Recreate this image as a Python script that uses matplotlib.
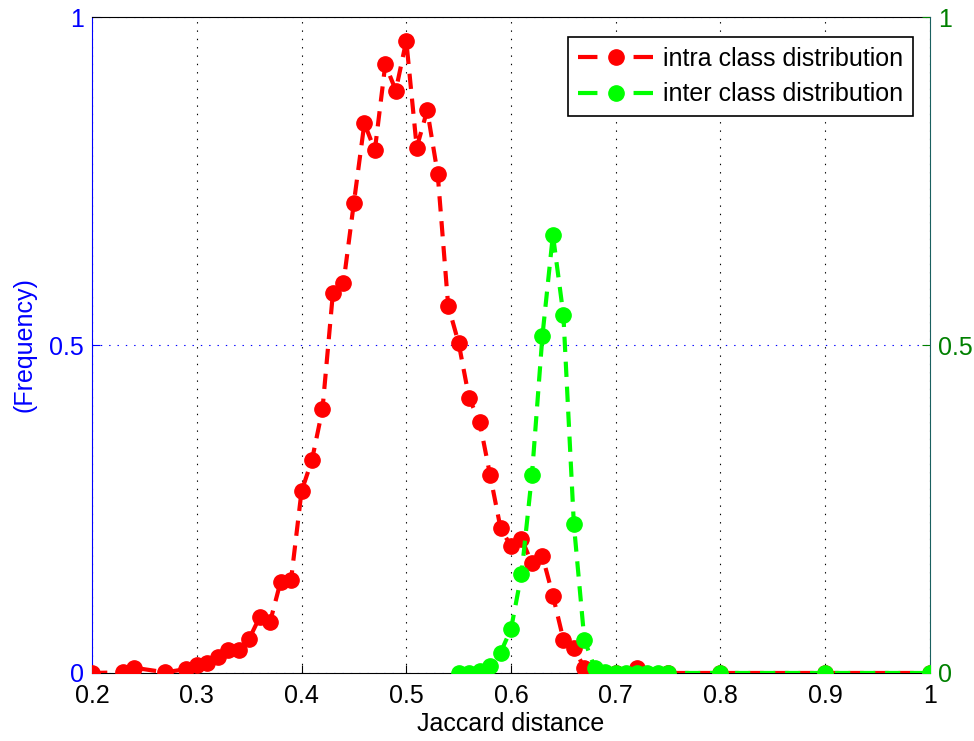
import matplotlib
matplotlib.use("Agg")
import matplotlib.pyplot as plt

plt.rcParams['font.family'] = ['Liberation Sans', 'DejaVu Sans']
plt.rcParams['lines.scale_dashes'] = False

# intra class distribution (red)
intra_x = [0.20, 0.23, 0.24, 0.27, 0.29, 0.30, 0.31, 0.32, 0.33, 0.34, 0.35, 0.36,
           0.37, 0.38, 0.39, 0.40, 0.41, 0.42, 0.43, 0.44, 0.45, 0.46, 0.47, 0.48,
           0.49, 0.50, 0.51, 0.52, 0.53, 0.54, 0.55, 0.56, 0.57, 0.58, 0.59, 0.60,
           0.61, 0.62, 0.63, 0.64, 0.65, 0.66, 0.67, 0.68, 0.70, 0.72, 0.75, 0.80,
           0.90, 1.00]
intra_y = [0.000, 0.001, 0.008, 0.001, 0.006, 0.012, 0.015, 0.025, 0.035, 0.035, 0.052, 0.085,
           0.078, 0.139, 0.142, 0.277, 0.325, 0.402, 0.580, 0.594, 0.717, 0.838, 0.797, 0.928,
           0.888, 0.964, 0.801, 0.858, 0.761, 0.560, 0.503, 0.419, 0.383, 0.302, 0.221, 0.193,
           0.205, 0.167, 0.178, 0.118, 0.051, 0.038, 0.008, 0.003, 0.000, 0.007, 0.000, 0.000,
           0.000, 0.000]

# inter class distribution (green)
inter_x = [0.55, 0.56, 0.57, 0.58, 0.59, 0.60, 0.61, 0.62, 0.63, 0.64, 0.65, 0.66,
           0.67, 0.68, 0.69, 0.70, 0.71, 0.72, 0.73, 0.74, 0.75, 0.80, 0.90, 1.00]
inter_y = [0.000, 0.000, 0.003, 0.010, 0.031, 0.067, 0.151, 0.302, 0.514, 0.668, 0.546, 0.227,
           0.051, 0.007, 0.002, 0.000, 0.000, 0.000, 0.000, 0.000, 0.000, 0.000, 0.000, 0.000]

yticks = [0, 0.5, 1]
ytick_labels = ['0', '0.5', '1']
xticks = [0.2, 0.3, 0.4, 0.5, 0.6, 0.7, 0.8, 0.9, 1.0]
xtick_labels = ['0.2', '0.3', '0.4', '0.5', '0.6', '0.7', '0.8', '0.9', '1']

BLUE = '#0000ff'
GREEN = '#008000'
dash = (0, (11, 7))
FS = 18

fig = plt.figure(figsize=(9.74, 7.41), dpi=100)
ax = fig.add_axes([0.0945, 0.0918, 0.8603, 0.8852])
ax2 = ax.twinx()

l1, = ax.plot(intra_x, intra_y, color='#ff0000', linestyle=dash, linewidth=3,
              marker='o', markersize=11, label='intra class distribution', zorder=3)
l2, = ax2.plot(inter_x, inter_y, color='#00ff00', linestyle=dash, linewidth=3,
               marker='o', markersize=11, label='inter class distribution', zorder=3)

for a in (ax, ax2):
    a.set_xlim(0.2, 1.0)
    a.set_ylim(0, 1)
    a.set_yticks(yticks)
    a.set_yticklabels(ytick_labels)
    a.tick_params(direction='in', length=6, labelsize=FS)

ax.set_xticks(xticks)
ax.set_xticklabels(xtick_labels)
ax.tick_params(axis='x', top=False, pad=8)
ax.tick_params(axis='y', colors=BLUE, pad=6)
ax2.tick_params(axis='y', colors=GREEN, pad=6)

ax.spines['left'].set_color(BLUE)
ax.spines['right'].set_visible(False)
ax2.spines['left'].set_visible(False)
ax2.spines['right'].set_color('#1a6060')
for s in ('top', 'bottom'):
    ax2.spines[s].set_visible(False)

ax.xaxis.grid(True, linestyle=(0, (1, 5)), color='black', linewidth=0.8)
ax.yaxis.grid(True, linestyle=(0, (1, 5)), color=BLUE, linewidth=0.8)

ax.set_xlabel('Jaccard distance', fontsize=FS, labelpad=3)
ax.set_ylabel('(Frequency)', fontsize=FS, color=BLUE)
ax.yaxis.set_label_coords(-0.066, 0.5)

leg = ax2.legend([l1, l2], ['intra class distribution', 'inter class distribution'],
                 loc='upper right', bbox_to_anchor=(0.980, 0.9695), borderaxespad=0,
                 fontsize=FS, fancybox=False, framealpha=1, edgecolor='black',
                 handlelength=3.0, borderpad=0.4, labelspacing=0.45, handletextpad=0.4)
leg.get_frame().set_linewidth(1.2)
for ln in leg.get_lines():
    ln.set_linestyle((0, (14, 26)))

fig.savefig('out.png', dpi=100)
